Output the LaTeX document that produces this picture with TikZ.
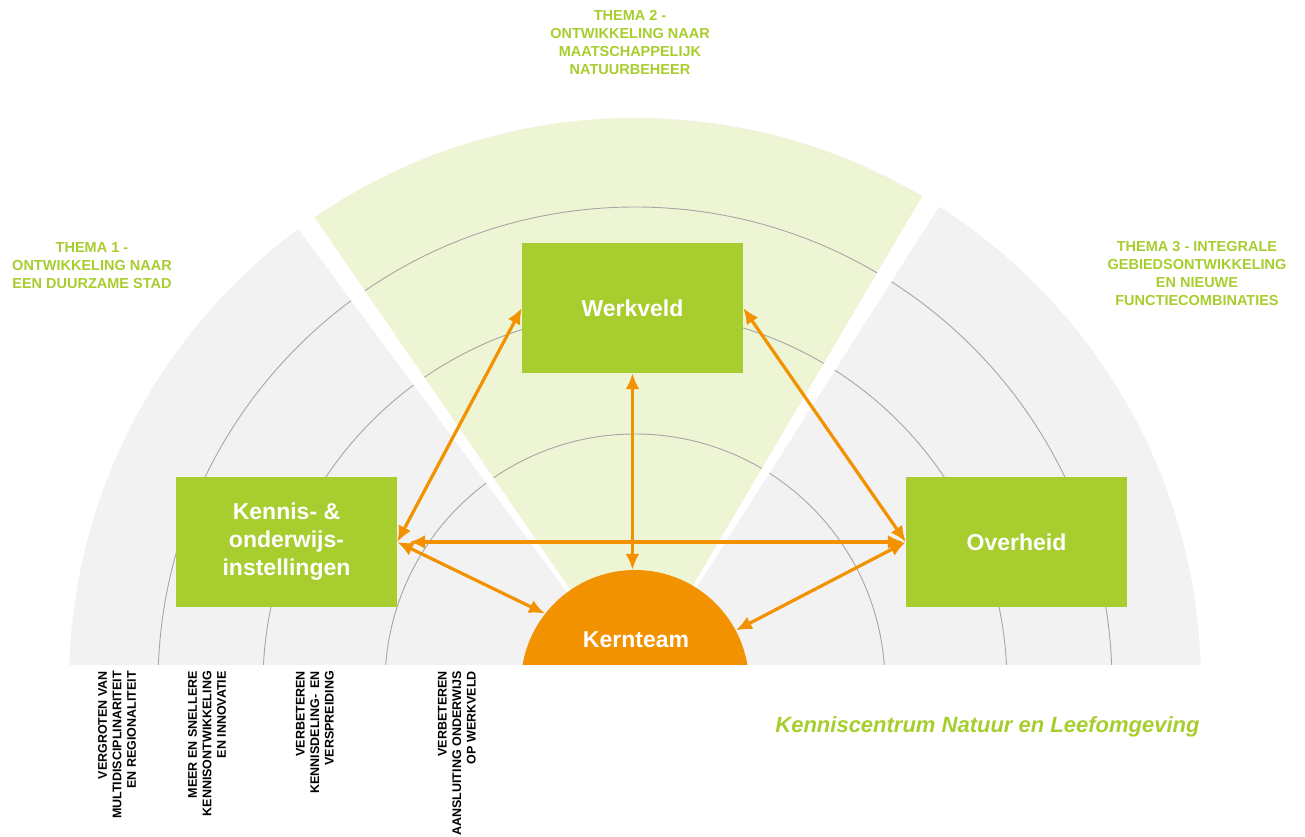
\documentclass[tikz,border=0pt]{standalone}
\usepackage{fontspec}
\setmainfont{Liberation Sans}
\usetikzlibrary{arrows.meta}
\definecolor{kcgreen}{HTML}{A8CD2E}
\definecolor{kclight}{HTML}{EEF5D5}
\definecolor{kcgrey}{HTML}{F2F2F2}
\definecolor{kcline}{HTML}{A6A6A6}
\definecolor{kcorange}{HTML}{F39200}
\tikzset{actor/.style={
  rectangle,
  fill=kcgreen,text=white,
  minimum width=221pt,minimum height=130pt,
  align=center,font=\bfseries\fontsize{23}{28}\selectfont}}
\tikzset{thema/.style={
  text=kcgreen,align=center,
  font=\bfseries\fontsize{14.5}{18}\selectfont}}
\tikzset{doel/.style={
  rotate=90,anchor=east,align=right,inner sep=0pt,
  font=\bfseries\fontsize{12.5}{14.5}\selectfont}}
\tikzset{link/.style={<->,draw=kcorange,line width=3.2pt}}
\tikzset{>={Latex[length=16pt,width=14pt]}}

\begin{document}
\begin{tikzpicture}[x=1pt,y=1pt]
  \useasboundingbox (-635,-152) rectangle (670,684);
  % half disc with the three themes
  \begin{scope}
    \clip (-640,20) rectangle (640,640);
    \fill[kcgrey] (0,0) circle (566);
    \fill[kclight] (0,0) -- (58.5:566) arc (58.5:125.5:566) -- cycle;
    \foreach \r in {477,372,250}
      \draw[kcline,line width=0.9pt] (0,0) circle (\r);
    \foreach \a in {58.5,125.5}
      \fill[white] (0,0) -- ({\a-1}:600) -- ({\a+1}:600) -- cycle;
    \node[circle,fill=kcorange,minimum size=228pt,inner sep=0pt] (kern) at (0,0) {};
  \end{scope}
  \node[text=white,font=\bfseries\fontsize{23}{28}\selectfont] (kerntxt) at (1,44) {Kernteam};

  \node[actor] (werkveld) at (-2.5,376) {Werkveld};
  \node[actor] (kennis) at (-348.5,142) {Kennis- \&\\onderwijs-\\instellingen};
  \node[actor] (overheid) at (381.5,142) {Overheid};

  \foreach \m/\n in {werkveld.west/kennis.east,werkveld.east/overheid.west,
      kennis.east/kern.142,overheid.west/kern.28}
    \draw[link] (\m) -- (\n);
  \draw[link,shorten <=12pt,shorten >=2pt] (kennis.east) -- (overheid.west);
  \draw[link] (werkveld.south) -- (werkveld.south |- kern.north);

  % themes
  \node[thema] (thema1) at (-543,418) {THEMA 1 -\\ONTWIKKELING NAAR\\EEN DUURZAME STAD};
  \node[thema] (thema2) at (-5,641) {THEMA 2 -\\ONTWIKKELING NAAR\\MAATSCHAPPELIJK\\NATUURBEHEER};
  \node[thema] (thema3) at (562,410) {THEMA 3 - INTEGRALE\\GEBIEDSONTWIKKELING\\EN NIEUWE\\FUNCTIECOMBINATIES};

  % goals along the base
  \node[doel] (doel1) at (-518,13) {VERGROTEN VAN\\MULTIDISCIPLINARITEIT\\EN REGIONALITEIT};
  \node[doel] (doel2) at (-428,13) {MEER EN SNELLERE\\KENNISONTWIKKELING\\EN INNOVATIE};
  \node[doel] (doel3) at (-320,13) {VERBETEREN\\KENNISDELING-\enspace EN\\VERSPREIDING};
  \node[doel] (doel4) at (-178,13) {VERBETEREN\\AANSLUITING ONDERWIJS\\OP WERKVELD};

  \node[text=kcgreen,anchor=base,font=\bfseries\itshape\fontsize{22}{26}\selectfont]
    (centrum) at (352.5,-48) {Kenniscentrum Natuur en Leefomgeving};
\end{tikzpicture}
\end{document}
